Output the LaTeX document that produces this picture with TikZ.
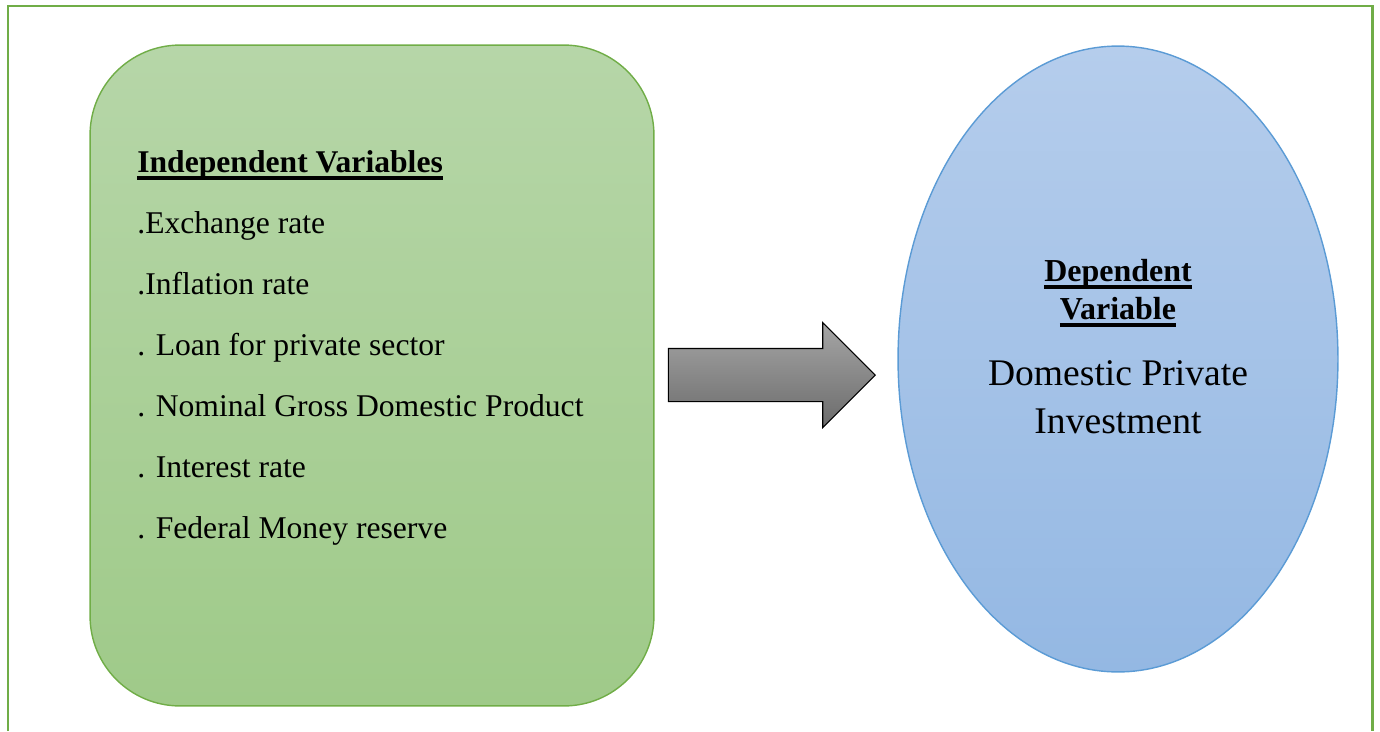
\documentclass[tikz,border=0pt]{standalone}
\usepackage{fontspec}
\setmainfont{Liberation Serif}
\usepackage{tikz}
\usepackage{xcolor}
\usetikzlibrary{shapes,arrows,positioning}

\definecolor{framegreen}{RGB}{112,173,71}
\definecolor{boxtop}{RGB}{182,214,168}
\definecolor{boxbottom}{RGB}{159,202,137}
\definecolor{ovaltop}{RGB}{181,205,236}
\definecolor{ovalbottom}{RGB}{148,184,227}
\definecolor{ovalline}{RGB}{91,155,213}

% bold heading with a thick rule under it
\newcommand{\headtitle}[1]{\setbox0\hbox{\textbf{#1}}\rlap{\rule[-4.3pt]{\wd0}{1.8pt}}\box0}

\tikzset{
    varbox/.style={draw=framegreen, line width=0.8pt, rounded corners=1.8cm,
        top color=boxtop, bottom color=boxbottom,
        minimum width=11.28cm, minimum height=13.22cm, inner sep=0pt},
    varoval/.style={ellipse, draw=ovalline, line width=0.8pt,
        top color=ovaltop, bottom color=ovalbottom,
        minimum width=8.8cm, minimum height=12.52cm, inner sep=0pt},
    bigarrow/.style={single arrow, draw=black, line width=0.6pt,
        top color=black!35, bottom color=black!58,
        minimum height=4.14cm, inner xsep=0pt, inner ysep=0.52cm,
        single arrow head extend=0.52cm},
    itemtext/.style={anchor=base west, inner sep=0pt, font=\fontsize{18}{22}\selectfont},
    deptext/.style={anchor=base, inner sep=0pt, font=\fontsize{18.2}{22}\selectfont},
    depname/.style={anchor=base, inner sep=0pt, font=\fontsize{21.4}{26}\selectfont}
}

\begin{document}
\begin{tikzpicture}[x=0.02cm, y=-0.02cm]
    \useasboundingbox (0,0) rectangle (1380,731);

    % page frame, open at the bottom
    \draw[framegreen, line width=1.7pt] (8,731) -- (8,6) -- (1372,6) -- (1372,731);

    % independent side
    \node[varbox] (indep) at (372,375.5) {};
    \node[itemtext] (indeptitle) at (137,172) {\headtitle{Independent Variables}};
    \foreach \txt [count=\i] in {.Exchange rate, .Inflation rate, . Loan for private sector,
        . Nominal Gross Domestic Product, . Interest rate, . Federal Money reserve}
        \node[itemtext] (item\i) at (137,172+61*\i) {\txt};

    % dependent side
    \node[varoval] (dep) at (1118,359) {};
    \node[deptext] (deptitle) at (1118,281) {\headtitle{Dependent}};
    \node[deptext] (deptitle2) at (1118,319) {\headtitle{Variable}};
    \node[depname] (depname) at (1118,385) {Domestic Private};
    \node[depname] (depname2) at (1118,433) {Investment};

    % block arrow between the two
    \node[bigarrow] (link) at (758.5,375) {};
\end{tikzpicture}
\end{document}
